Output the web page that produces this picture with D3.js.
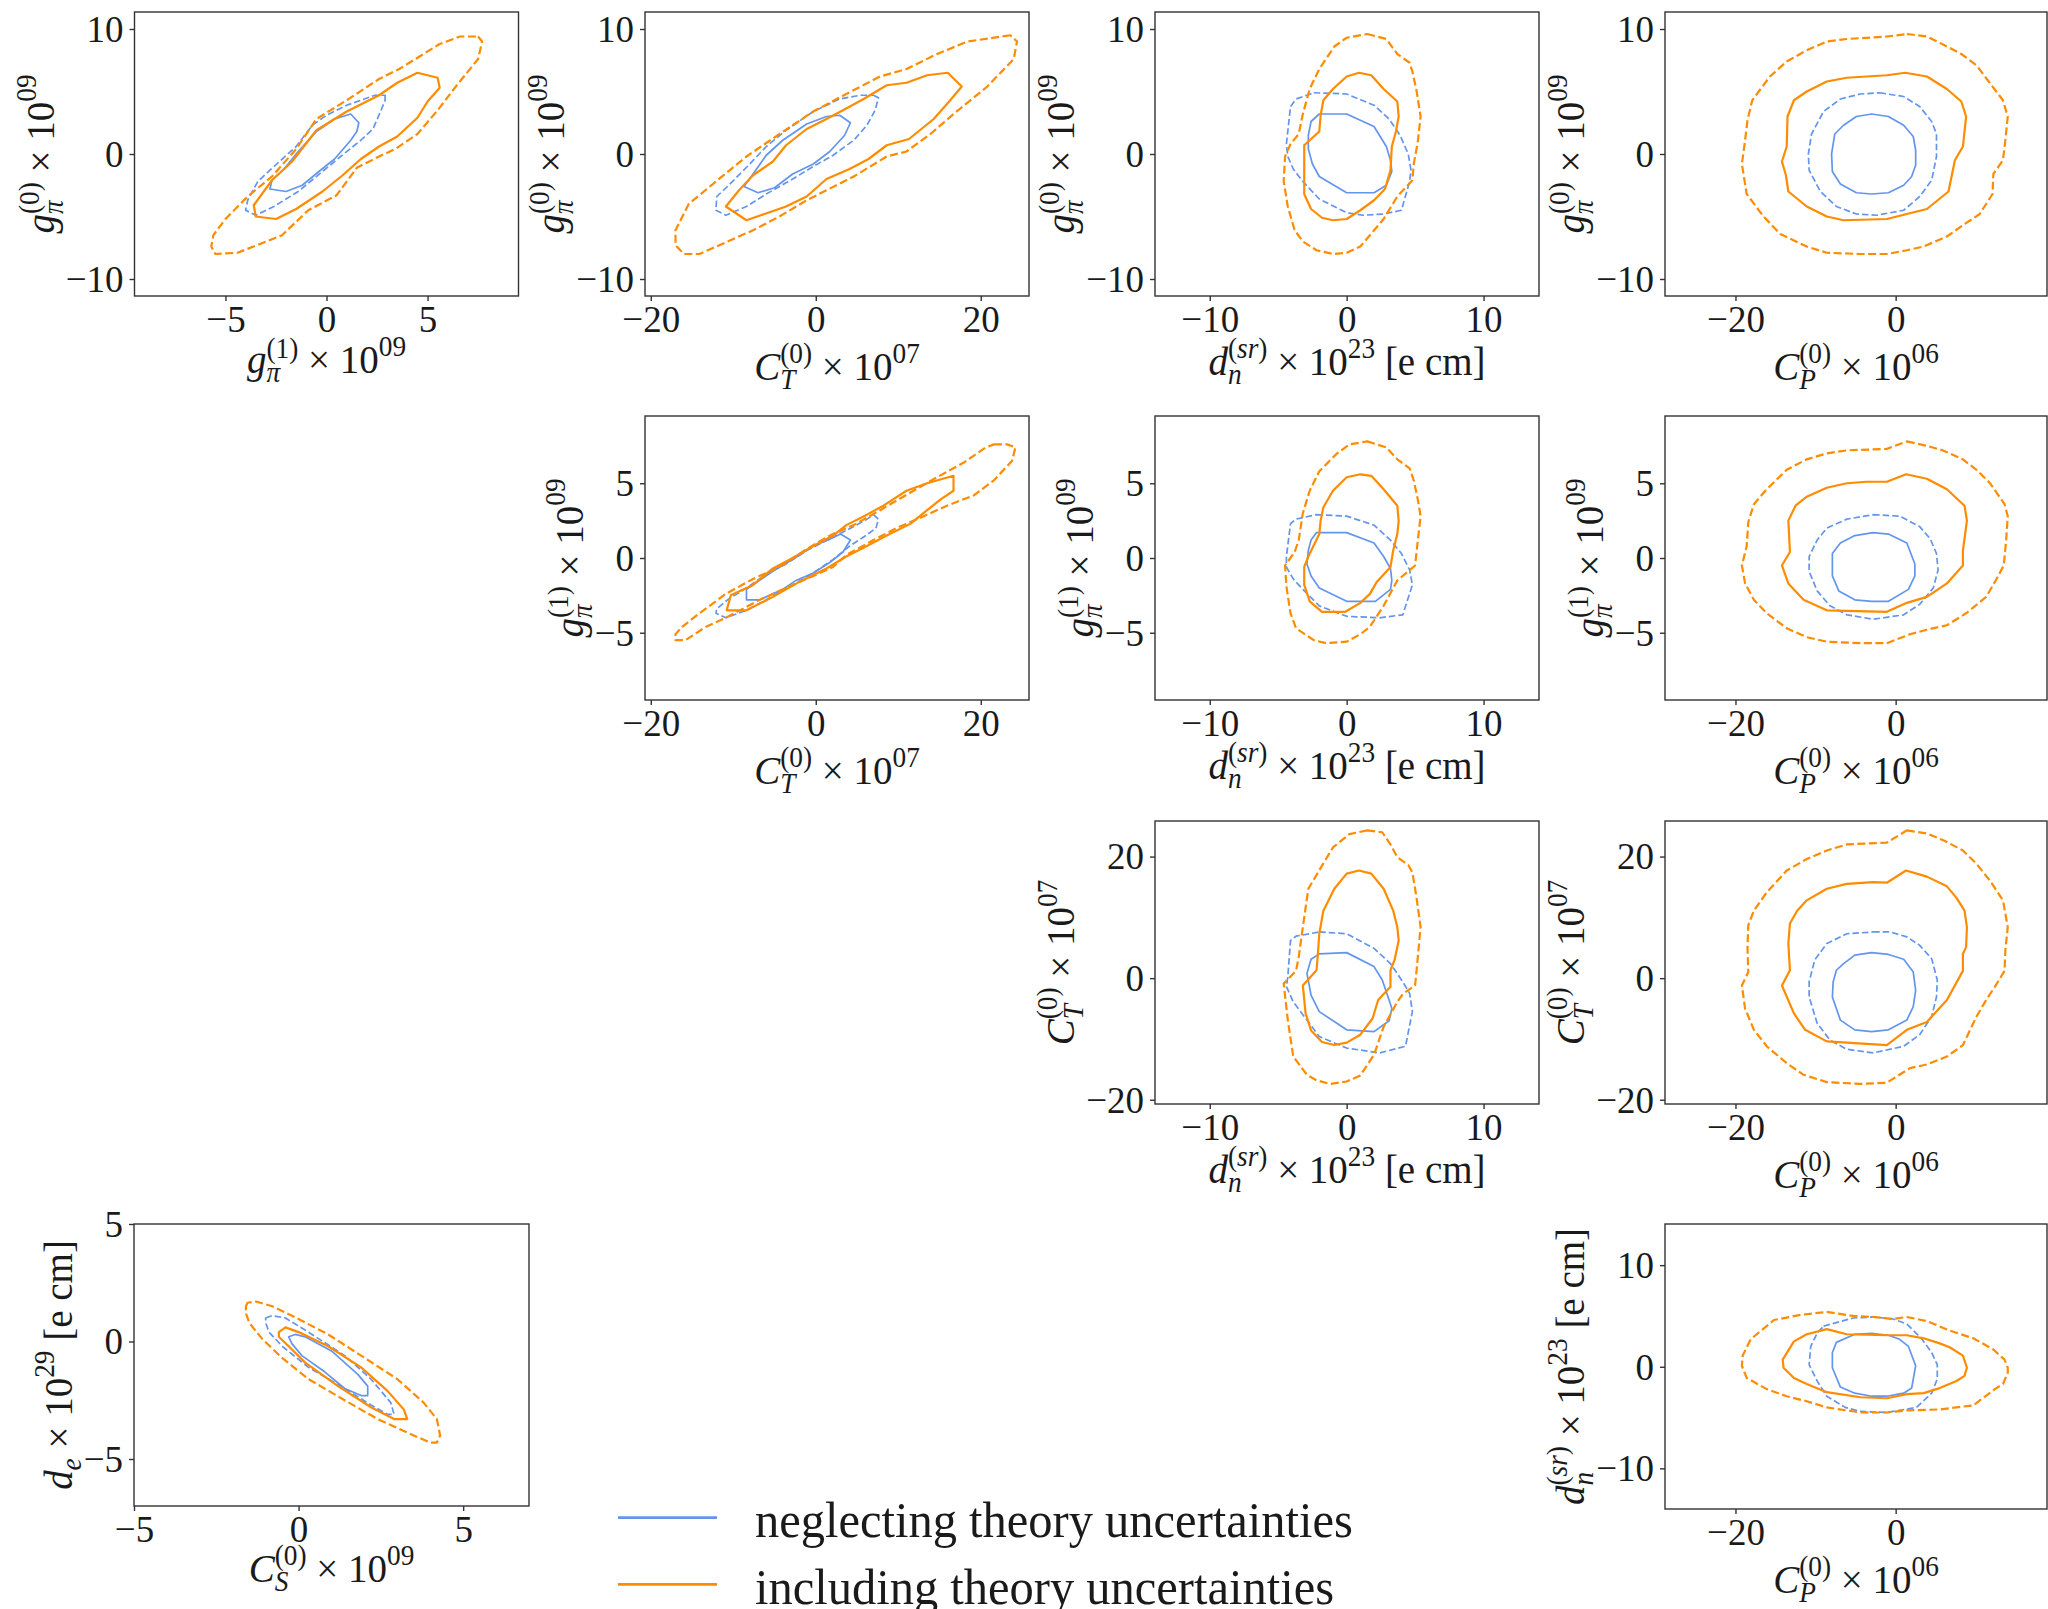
<!DOCTYPE html>
<html>
<head>
<meta charset="utf-8">
<script src="https://cdn.jsdelivr.net/npm/d3@7"></script>
<style>
body { margin: 0; background: #fff; }
svg { display: block; }
text { font-family: "Liberation Serif", "DejaVu Serif", serif; fill: #1a1a1a; }
</style>
</head>
<body>
<svg id="fig" width="2048" height="1609"></svg>
<script>
// axis ranges and ticks
const DOM_GPI0 = [-11.36, 11.36], TICKS_GPI0 = [-10, 0, 10];
const DOM_GPI1 = [-9.5, 9.5],     TICKS_GPI1 = [-5, 0, 5];
const DOM_CT = [-20.7, 25.85],    TICKS_CT = [-20, 0, 20];
const DOM_DN = [-14, 14.05],      TICKS_DN = [-10, 0, 10];
const DOM_CP = [-28.8, 18.9],     TICKS_CP = [-20, 0];
const DOM_CS = [-5, 7],           TICKS_CS = [-5, 0, 5];
const DOM_DE = [-7, 5],           TICKS_DE = [-5, 0, 5];

// axis labels: [text, italic] runs and {sup, sub} scripts
const LBL_GPI0 = [["g",1], {sup:[["(0)",0]], sub:[["π",1]]}, [" × 10",0], {sup:[["09",0]], hi:1}];
const LBL_GPI1 = [["g",1], {sup:[["(1)",0]], sub:[["π",1]]}, [" × 10",0], {sup:[["09",0]], hi:1}];
const LBL_CT = [["C",1], {sup:[["(0)",0]], sub:[["T",1]], hi:1}, [" × 10",0], {sup:[["07",0]], hi:1}];
const LBL_DN = [["d",1], {sup:[["(",0],["sr",1],[")",0]], sub:[["n",1]], hi:1}, [" × 10",0], {sup:[["23",0]], hi:1}, [" [e cm]",0]];
const LBL_CP = [["C",1], {sup:[["(0)",0]], sub:[["P",1]], hi:1}, [" × 10",0], {sup:[["06",0]], hi:1}];
const LBL_CS = [["C",1], {sup:[["(0)",0]], sub:[["S",1]], hi:1}, [" × 10",0], {sup:[["09",0]], hi:1}];
const LBL_DE = [["d",1], {sub:[["e",1]]}, [" × 10",0], {sup:[["29",0]], hi:1}, [" [e cm]",0]];

const LEGEND_LABELS = ["neglecting theory uncertainties", "including theory uncertainties"];

// contours: b = neglecting, o = including; 68 solid, 95 dashed
const p1_o95 = [[7.5,9.4],[7.7,9.0],[7.5,7.6],[6.4,5.4],[5.5,3.5],[4.5,1.6],[3.4,0.4],[2.6,-0.2],[1.5,-1.1],[0.5,-3.3],[-0.9,-4.5],[-2.2,-6.5],[-4.4,-7.9],[-5.5,-8.0],[-5.7,-7.4],[-5.6,-6.5],[-5.0,-5.2],[-3.9,-3.4],[-2.7,-1.8],[-1.5,0.4],[-0.5,2.8],[1.0,4.3],[2.6,6.0],[3.6,6.8],[5.6,8.8],[6.6,9.4]];
const p1_o68 = [[4.5,6.5],[5.5,6.1],[5.6,5.3],[5.0,4.2],[4.5,2.9],[3.5,1.4],[2.6,0.6],[1.7,-0.4],[0.8,-1.7],[-0.2,-3.0],[-1.5,-4.4],[-2.5,-5.2],[-3.5,-5.0],[-3.6,-4.1],[-2.7,-2.1],[-1.7,-0.6],[-0.5,1.9],[1.0,3.4],[2.6,4.7],[3.5,5.7]];
const p1_b95 = [[2.9,4.7],[2.9,4.3],[2.7,3.5],[2.3,2.0],[1.7,1.1],[0.7,-0.2],[-0.2,-1.4],[-1.4,-3.0],[-2.6,-4.2],[-3.5,-4.9],[-4.0,-4.5],[-3.9,-3.7],[-3.4,-2.2],[-2.6,-1.0],[-1.5,0.6],[-0.7,2.3],[0,3.1],[1.0,3.9],[2.4,4.7]];
const p1_b68 = [[1.2,3.2],[1.6,2.5],[1.5,1.8],[1.2,1.1],[0.4,-0.4],[-0.3,-1.3],[-1.2,-2.5],[-2.0,-3.0],[-2.8,-2.8],[-2.7,-2.1],[-2.1,-1.2],[-1.4,0.2],[-0.5,1.8],[0.4,2.8]];

const p2_o95 = [[23.6,9.5],[18.4,9.0],[14.7,8.0],[11.0,6.8],[7.8,6.2],[3.7,4.8],[-0.3,3.4],[-4.4,1.6],[-8.4,-0.2],[-12.1,-2.2],[-15.4,-4.0],[-17.0,-6.1],[-17.0,-7.3],[-16.0,-8.0],[-14.1,-8.0],[-11.7,-7.3],[-7.6,-6.1],[-4.4,-5.0],[-1.1,-3.7],[1.3,-2.9],[4.6,-1.8],[8.6,-0.2],[11.0,0.2],[13.9,1.6],[16.7,3.2],[20.8,5.4],[24.0,7.6],[24.4,9.0]];
const p2_o68 = [[16.0,6.5],[17.7,5.4],[16.3,4.3],[14.3,2.8],[11.3,1.2],[8.6,0.7],[6.4,-0.4],[4.1,-1.2],[1.3,-2.0],[-1.1,-3.4],[-3.6,-4.2],[-8.4,-5.3],[-10.9,-4.2],[-9.3,-2.9],[-7.6,-1.7],[-5.2,-0.6],[-3.6,0.7],[-1.1,2.0],[1.3,2.8],[3.3,3.5],[5.8,4.4],[8.6,5.5],[11.0,5.7],[13.5,6.3]];
const p2_b95 = [[7.0,4.7],[7.6,4.5],[7.2,3.5],[6.2,2.3],[4.6,1.1],[2.1,-0.1],[-0.3,-1.0],[-2.8,-2.0],[-6.0,-3.2],[-8.4,-4.2],[-10.9,-4.9],[-12.1,-4.5],[-12.0,-3.4],[-10.7,-2.6],[-8.0,-0.8],[-6.0,0.6],[-3.6,1.9],[-0.3,3.4],[2.9,4.4],[5.4,4.7]];
const p2_b68 = [[2.9,3.1],[4.2,2.5],[3.5,1.5],[1.7,0.2],[-0.3,-0.8],[-2.8,-1.6],[-5.0,-2.7],[-7.0,-3.1],[-8.7,-2.6],[-7.6,-1.6],[-6.0,-0.1],[-4.0,1.1],[-1.1,2.4],[1.3,3.0]];

const p3_o95 = [[1.5,9.6],[2.9,9.2],[3.7,8.0],[4.6,7.3],[4.8,6.6],[5.1,5.1],[5.4,3.0],[5.2,1.0],[4.9,-0.8],[4.8,-2.1],[3.7,-3.4],[2.7,-5.2],[1.7,-6.5],[1.0,-7.4],[0,-7.9],[-1.0,-8.0],[-2.2,-7.7],[-3.2,-7.0],[-3.8,-6.1],[-4.3,-4.2],[-4.6,-2.2],[-4.5,-0.2],[-4.1,0.8],[-3.5,1.6],[-3.2,3.2],[-2.7,5.2],[-2.0,6.8],[-0.9,8.6],[0,9.3]];
const p3_o68 = [[0.9,6.5],[1.8,6.3],[2.7,5.2],[3.7,4.2],[3.8,3.0],[3.6,1.8],[3.3,0.6],[3.2,-1.3],[2.8,-2.8],[2.0,-3.7],[1.0,-4.5],[0,-5.2],[-1.0,-5.3],[-1.8,-5.1],[-2.6,-4.4],[-3.1,-3.2],[-3.1,-1.6],[-3.1,0.7],[-2.0,1.8],[-1.9,3.1],[-1.7,4.3],[-1.0,5.2],[0,6.2]];
const p3_b95 = [[-2.4,4.9],[0,4.8],[2.0,3.9],[3.1,2.8],[3.9,1.5],[4.5,0.0],[4.7,-1.3],[4.6,-2.2],[4.0,-4.5],[2.7,-4.8],[1.2,-4.9],[0,-4.7],[-2.0,-3.6],[-3.2,-2.2],[-3.9,-1.2],[-4.3,-0.2],[-4.4,0.8],[-4.1,3.8],[-3.7,4.4]];
const p3_b68 = [[-2.0,3.2],[0,3.2],[2.0,2.2],[2.9,0.6],[3.2,-0.5],[3.3,-1.4],[2.9,-2.5],[2.0,-3.1],[0,-3.1],[-2.0,-1.8],[-2.5,-0.8],[-2.8,0.4],[-2.8,1.5],[-2.6,2.6]];

const p4_o95 = [[1.4,9.6],[3.9,9.4],[6.1,8.7],[8.2,8.0],[10.1,7.1],[11.5,5.9],[13.4,4.3],[14.0,3.0],[13.7,1.1],[13.4,-0.5],[12.2,-1.6],[12.1,-3.2],[10.5,-4.8],[8.4,-5.7],[6.4,-6.6],[3.5,-7.4],[1.4,-7.7],[-1.1,-8.0],[-4.4,-8.0],[-8.6,-7.9],[-11.1,-7.4],[-14.4,-6.4],[-16.5,-5.0],[-18.6,-3.2],[-19.2,-0.8],[-18.8,1.1],[-18.5,2.7],[-17.9,4.3],[-15.7,6.2],[-13.6,7.4],[-11.1,8.3],[-8.6,9.0],[-6.1,9.2],[-1.1,9.4]];
const p4_o68 = [[-1.1,6.3],[1.2,6.5],[3.9,6.2],[6.4,5.2],[8.2,4.2],[8.8,3.0],[8.4,0.6],[7.4,-0.5],[6.6,-3.0],[3.9,-4.4],[1.4,-4.8],[-1.1,-5.2],[-6.5,-5.3],[-8.6,-5.0],[-11.1,-4.2],[-13.4,-3.0],[-13.7,-1.7],[-14.2,-0.6],[-13.6,0.6],[-13.5,3.0],[-12.7,4.3],[-11.1,5.0],[-8.6,5.8],[-6.1,6.1]];
const p4_b95 = [[-2.0,4.9],[1.0,4.6],[3.0,3.8],[4.5,2.6],[5.1,1.6],[5.1,-0.2],[4.5,-2.1],[3.0,-3.4],[1.0,-4.5],[-2.4,-4.9],[-4.9,-4.8],[-7.4,-4.2],[-9.4,-3.0],[-10.8,-1.3],[-10.9,0.0],[-10.5,1.6],[-9.0,3.4],[-6.9,4.4],[-4.4,4.8]];
const p4_b68 = [[-3.0,3.2],[-0.9,3.0],[1.0,2.3],[2.2,1.4],[2.5,0.3],[2.5,-0.9],[2.0,-1.8],[1.0,-2.5],[-0.9,-3.1],[-3.0,-3.2],[-4.9,-3.1],[-6.9,-2.4],[-7.9,-1.4],[-8.0,0.0],[-7.6,1.6],[-6.5,2.3],[-4.9,3.0]];

const p5_o95 = [[21.6,7.6],[23.2,7.6],[24.2,7.4],[23.8,6.5],[21.6,5.2],[19.2,4.2],[15.9,3.5],[12.7,2.7],[9.8,2.0],[7.0,1.2],[3.7,0.2],[2.1,-0.6],[-0.3,-1.2],[-2.8,-1.8],[-6.8,-2.8],[-10.9,-4.0],[-13.3,-4.6],[-15.8,-5.5],[-17.0,-5.5],[-17.0,-5.1],[-16.2,-4.6],[-14.1,-3.7],[-10.9,-2.4],[-7.6,-1.4],[-4.4,-0.6],[-1.1,0.6],[1.7,1.5],[4.6,2.2],[7.8,3.2],[10.6,4.1],[14.7,5.4],[18.0,6.4],[20.6,7.4]];
const p5_o68 = [[16.7,5.5],[16.7,4.5],[15.1,3.9],[13.5,3.2],[11.5,2.3],[8.6,1.5],[6.2,0.8],[3.7,0.1],[1.3,-0.7],[-2.0,-1.6],[-5.2,-2.6],[-8.4,-3.5],[-10.8,-3.5],[-10.3,-2.5],[-7.6,-1.8],[-5.2,-0.7],[-2.8,0.0],[-0.3,0.8],[2.1,1.5],[3.7,2.2],[6.2,2.9],[8.2,3.5],[11.0,4.5],[13.5,5.0]];
const p5_b95 = [[7.0,2.9],[7.6,2.6],[7.3,2.0],[5.8,1.4],[4.1,0.8],[2.1,-0.1],[-0.3,-1.0],[-2.8,-1.8],[-6.0,-2.8],[-8.4,-3.5],[-10.9,-4.0],[-12.1,-3.7],[-12.0,-3.4],[-10.7,-2.8],[-8.4,-2.0],[-6.0,-1.1],[-3.6,-0.4],[-1.1,0.5],[2.1,1.4],[4.6,2.1],[6.2,2.6]];
const p5_b68 = [[3.0,1.6],[4.2,1.2],[3.3,0.4],[1.7,-0.3],[-0.3,-1.0],[-2.4,-1.5],[-4.0,-2.1],[-6.8,-2.8],[-8.4,-2.8],[-8.4,-2.1],[-6.8,-1.5],[-5.0,-0.8],[-2.8,-0.1],[-0.3,0.8],[1.5,1.2]];

const p6_o95 = [[1.5,7.8],[2.9,7.4],[3.7,6.6],[4.6,6.0],[4.9,5.2],[5.2,3.9],[5.4,2.8],[5.2,1.2],[5.0,-0.5],[3.7,-1.5],[2.7,-3.2],[1.7,-4.6],[1.0,-5.1],[0,-5.6],[-1.5,-5.7],[-2.4,-5.5],[-3.7,-4.7],[-4.1,-3.7],[-4.4,-1.9],[-4.5,-0.5],[-3.8,0.4],[-3.5,1.2],[-3.2,3.0],[-2.7,4.5],[-2.0,5.8],[-0.7,7.0],[0.2,7.6]];
const p6_o68 = [[1.0,5.6],[1.8,5.5],[2.7,4.6],[3.7,3.5],[3.8,2.5],[3.7,1.6],[3.4,0.5],[3.2,-0.6],[2.2,-1.6],[1.7,-2.4],[1.0,-3.0],[-0.1,-3.6],[-1.8,-3.6],[-2.7,-2.9],[-3.1,-1.8],[-3.1,-0.6],[-2.8,0.1],[-2.0,1.6],[-1.9,2.5],[-1.7,3.4],[-1.0,4.5],[0,5.4]];
const p6_b95 = [[-2.2,2.9],[0,2.8],[2.0,2.2],[3.2,1.2],[4.0,0.3],[4.6,-0.8],[4.8,-1.8],[4.1,-3.8],[2.4,-4.0],[0,-3.9],[-2.0,-3.2],[-3.2,-2.1],[-3.9,-1.4],[-4.4,-0.6],[-4.4,0.1],[-4.1,2.3],[-3.7,2.6]];
const p6_b68 = [[-2.2,1.7],[0,1.7],[2.0,1.0],[2.7,0.1],[3.2,-0.7],[3.3,-1.5],[3.2,-2.1],[2.1,-2.9],[0,-2.9],[-2.0,-2.0],[-2.6,-1.2],[-2.9,-0.4],[-2.8,0.5],[-2.6,1.2]];

const p7_o95 = [[1.4,7.8],[3.9,7.5],[5.9,7.2],[8.4,6.6],[10.1,5.9],[11.8,5.0],[13.6,3.6],[14.0,2.8],[13.8,1.2],[13.5,-0.5],[12.4,-1.6],[11.3,-2.6],[8.8,-3.7],[6.4,-4.5],[3.9,-4.8],[1.8,-5.1],[-1.1,-5.7],[-4.4,-5.7],[-8.6,-5.6],[-11.1,-5.3],[-13.6,-4.7],[-16.1,-3.7],[-17.7,-2.8],[-18.8,-1.7],[-19.2,-0.5],[-18.6,0.8],[-18.4,2.4],[-17.7,3.6],[-16.1,4.6],[-13.6,5.9],[-11.1,6.6],[-8.6,7.0],[-6.1,7.2],[-1.1,7.3]];
const p7_o68 = [[-1.1,5.1],[1.3,5.6],[3.9,5.3],[6.4,4.6],[8.6,3.5],[8.9,2.5],[8.4,0.5],[8.4,-0.5],[6.4,-1.7],[3.9,-2.6],[1.4,-3.0],[-1.1,-3.6],[-8.6,-3.5],[-11.5,-2.8],[-13.4,-1.7],[-14.2,-0.5],[-13.2,0.4],[-13.4,2.5],[-12.5,3.5],[-11.1,4.1],[-8.6,4.7],[-6.1,5.0],[-3.6,5.1]];
const p7_b95 = [[-2.8,2.9],[0.5,2.8],[3.0,2.1],[4.3,1.3],[5.1,0.3],[5.3,-0.8],[4.7,-2.0],[3.0,-3.1],[1.0,-3.8],[-2.8,-4.1],[-6.1,-3.8],[-8.2,-3.2],[-9.8,-2.2],[-10.8,-0.9],[-10.8,0.1],[-9.8,1.2],[-8.6,2.0],[-6.1,2.6]];
const p7_b68 = [[-2.8,1.7],[-0.9,1.6],[1.4,1.0],[2.4,-0.4],[2.4,-1.2],[1.6,-2.1],[-0.9,-2.9],[-3.0,-2.9],[-5.1,-2.8],[-7.1,-2.2],[-7.9,-1.2],[-7.9,0.3],[-6.9,1.0],[-5.1,1.5]];

const p8_o95 = [[1.5,24.3],[2.6,24.0],[3.2,22.0],[3.7,19.9],[4.5,18.6],[4.8,17.4],[5.1,13.3],[5.4,8.4],[5.2,3.5],[5.0,-1.2],[4.1,-2.6],[3.7,-3.9],[2.7,-8.0],[2.0,-12.6],[1.0,-16.0],[0,-17.0],[-1.2,-17.4],[-2.2,-16.8],[-2.9,-15.9],[-3.9,-12.9],[-4.3,-6.9],[-4.6,-0.9],[-3.7,1.2],[-3.5,3.5],[-3.2,8.4],[-2.8,14.7],[-1.8,18.5],[-1.0,21.5],[0.2,23.7]];
const p8_o68 = [[0.9,17.7],[1.8,17.2],[2.7,14.7],[3.4,11.1],[3.7,8.4],[3.8,6.2],[3.5,3.0],[3.2,1.3],[3.2,-1.4],[2.3,-3.6],[1.9,-6.6],[1.0,-9.3],[0,-10.6],[-0.9,-11.0],[-1.8,-10.5],[-2.6,-8.6],[-3.0,-5.8],[-3.2,-1.2],[-2.2,1.3],[-2.1,4.0],[-2.0,7.3],[-1.7,11.1],[-0.9,14.7],[0,17.2]];
const p8_b95 = [[-2.0,7.6],[0,7.3],[2.0,4.9],[3.2,2.4],[4.1,-0.6],[4.6,-2.5],[4.8,-5.5],[4.3,-11.2],[2.4,-12.3],[0,-11.5],[-2.0,-9.6],[-2.9,-6.9],[-3.9,-3.9],[-4.4,-1.4],[-4.3,0.2],[-4.1,6.2],[-3.7,6.9]];
const p8_b68 = [[-2.0,4.0],[0,4.2],[2.0,1.9],[2.6,-0.3],[3.1,-3.6],[3.3,-5.0],[3.1,-7.0],[2.0,-8.8],[0,-8.5],[-2.0,-5.5],[-2.6,-2.8],[-2.9,0.8],[-2.6,3.1]];

const p9_o95 = [[1.4,24.3],[3.9,23.8],[6.1,22.6],[8.4,21.0],[10.1,18.8],[11.8,16.0],[13.4,12.8],[14.0,8.4],[13.7,4.6],[13.6,1.2],[12.4,-1.4],[11.3,-3.6],[10.1,-6.3],[8.4,-11.0],[6.4,-12.9],[3.9,-14.2],[1.8,-14.8],[-1.1,-17.2],[-4.4,-17.4],[-8.6,-17.1],[-11.5,-15.9],[-13.6,-14.0],[-16.1,-11.2],[-17.7,-8.5],[-18.8,-5.0],[-19.2,-1.2],[-18.4,1.0],[-18.5,5.1],[-18.4,8.7],[-17.7,11.1],[-16.1,14.1],[-13.6,17.7],[-11.1,19.6],[-8.6,21.0],[-6.1,22.0],[-1.1,22.3]];
const p9_o68 = [[-1.1,15.7],[1.3,17.7],[3.9,16.7],[6.4,15.1],[7.6,13.2],[8.6,11.1],[8.9,8.4],[8.8,5.1],[8.4,4.0],[8.4,1.2],[6.4,-3.6],[3.9,-7.2],[1.4,-8.5],[-1.1,-11.0],[-8.6,-10.4],[-11.3,-8.5],[-12.7,-5.8],[-14.2,-1.2],[-13.2,1.3],[-13.4,5.7],[-13.2,9.0],[-12.3,11.1],[-11.1,12.8],[-8.6,14.7],[-6.1,15.5],[-2.8,15.8]];
const p9_b95 = [[-2.8,7.6],[-0.7,7.6],[1.4,6.8],[3.0,5.4],[4.5,3.2],[5.2,-0.3],[5.1,-3.1],[4.5,-6.3],[3.0,-9.3],[1.0,-11.2],[-2.8,-12.3],[-6.1,-11.7],[-8.2,-10.2],[-9.8,-7.4],[-10.8,-3.1],[-10.8,-0.6],[-10.1,3.0],[-8.6,5.7],[-6.1,7.3]];
const p9_b68 = [[-3.0,4.2],[-0.9,3.9],[1.0,3.1],[2.2,1.0],[2.5,-2.0],[2.2,-4.7],[1.4,-6.9],[-0.9,-8.5],[-3.0,-8.8],[-5.1,-8.5],[-6.9,-6.9],[-7.9,-3.1],[-7.8,-0.6],[-7.4,1.3],[-6.5,2.4],[-5.1,3.8]];

const p10_o95 = [[-1.6,1.5],[-1.55,1.65],[-1.3,1.7],[-0.8,1.5],[-0.2,1.1],[0.9,0.3],[1.9,-0.6],[3.0,-1.6],[3.8,-2.6],[4.2,-3.3],[4.3,-4.0],[4.2,-4.3],[4.0,-4.3],[3.5,-4.0],[2.4,-3.3],[1.4,-2.5],[0.3,-1.6],[-0.5,-0.7],[-1.1,0.1],[-1.5,0.8],[-1.6,1.2]];
const p10_o68 = [[-0.6,0.4],[-0.4,0.6],[0.0,0.4],[0.9,-0.2],[1.9,-1.1],[2.7,-2.1],[3.2,-2.9],[3.3,-3.3],[2.9,-3.3],[2.2,-2.8],[1.2,-1.9],[0.2,-0.9],[-0.3,-0.2],[-0.6,0.2]];
const p10_b95 = [[-1.0,1.0],[-0.8,1.1],[-0.4,1.0],[0.3,0.4],[1.4,-0.6],[2.2,-1.6],[2.8,-2.6],[2.9,-3.1],[2.7,-3.1],[2.2,-2.7],[1.4,-2.0],[0.3,-1.1],[-0.5,-0.2],[-0.9,0.4],[-1.0,0.8]];
const p10_b68 = [[-0.3,0.2],[-0.1,0.3],[0.2,0.2],[1.0,-0.4],[1.8,-1.4],[2.1,-1.9],[2.1,-2.3],[1.9,-2.3],[1.4,-2.0],[0.8,-1.3],[0.1,-0.6],[-0.2,-0.1]];

const p11_o95 = [[-8.6,5.4],[-5.3,5.0],[-2.8,4.9],[-0.3,4.7],[1.4,4.9],[3.9,4.5],[6.6,3.6],[9.7,2.8],[12.2,1.7],[13.6,0.7],[14.0,-0.1],[14.0,-0.6],[13.4,-1.7],[12.4,-2.2],[9.7,-3.8],[5.5,-4.2],[1.4,-4.3],[-1.1,-4.5],[-4.4,-4.5],[-8.6,-4.0],[-11.1,-3.4],[-13.6,-2.9],[-16.1,-2.2],[-18.6,-1.1],[-19.2,0.1],[-19.1,1.1],[-18.1,2.7],[-15.2,4.6],[-11.9,5.1]];
const p11_o68 = [[-8.6,3.7],[-6.1,3.2],[-1.1,3.1],[1.4,3.1],[3.5,2.8],[5.5,2.3],[6.8,1.9],[8.4,1.1],[8.9,-0.1],[8.6,-0.9],[7.6,-1.4],[5.5,-2.1],[3.5,-2.6],[1.4,-2.7],[-1.1,-3.1],[-4.4,-3.0],[-8.6,-2.5],[-11.1,-1.7],[-12.7,-1.1],[-14.0,-0.1],[-14.1,0.7],[-12.7,2.5],[-11.1,3.2]];
const p11_b95 = [[-9.0,4.0],[-5.3,4.8],[-2.8,4.9],[-0.3,4.7],[1.4,4.2],[3.2,2.8],[4.5,1.4],[5.2,0.2],[5.2,-1.2],[4.5,-2.6],[2.6,-4.0],[-1.1,-4.5],[-4.4,-4.4],[-6.3,-4.0],[-8.6,-2.9],[-9.8,-1.4],[-10.8,0.2],[-10.6,2.0],[-9.8,3.3]];
const p11_b68 = [[-3.0,3.3],[-0.9,3.1],[0.5,2.7],[1.6,2.0],[2.5,0.1],[2.0,-2.1],[1.0,-2.6],[-1.1,-2.9],[-3.0,-2.9],[-5.1,-2.6],[-6.9,-2.0],[-7.9,-0.1],[-7.9,1.4],[-7.4,2.4],[-5.1,3.2]];

// layout
const BLUE = "#6495ed", ORANGE = "#ff8c00", AXIS = "#333";
const TICK_FS = 37, LBL_FS = 39, LEG_FS = 48.5, SY = 1.05;

const panels = [
  {box:[134.5,518.5,12,296],xd:DOM_GPI1, yd:DOM_GPI0, xt:TICKS_GPI1, yt:TICKS_GPI0, xl:LBL_GPI1, yl:LBL_GPI0, xoff:77, c:[p1_b68,p1_b95,p1_o68,p1_o95]},
  {box:[645,1029,12,296],   xd:DOM_CT, yd:DOM_GPI0, xt:TICKS_CT, yt:TICKS_GPI0, xl:LBL_CT, yl:LBL_GPI0, xoff:84, c:[p2_b68,p2_b95,p2_o68,p2_o95]},
  {box:[1155,1539,12,296],  xd:DOM_DN, yd:DOM_GPI0, xt:TICKS_DN, yt:TICKS_GPI0, xl:LBL_DN, yl:LBL_GPI0, xoff:79, c:[p3_b68,p3_b95,p3_o68,p3_o95]},
  {box:[1665,2047,12,296],  xd:DOM_CP, yd:DOM_GPI0, xt:TICKS_CP, yt:TICKS_GPI0, xl:LBL_CP, yl:LBL_GPI0, xoff:84, c:[p4_b68,p4_b95,p4_o68,p4_o95]},
  {box:[645,1029,416,700],  xd:DOM_CT, yd:DOM_GPI1, xt:TICKS_CT, yt:TICKS_GPI1, xl:LBL_CT, yl:LBL_GPI1, xoff:84, c:[p5_b68,p5_b95,p5_o68,p5_o95]},
  {box:[1155,1539,416,700], xd:DOM_DN, yd:DOM_GPI1, xt:TICKS_DN, yt:TICKS_GPI1, xl:LBL_DN, yl:LBL_GPI1, xoff:79, c:[p6_b68,p6_b95,p6_o68,p6_o95]},
  {box:[1665,2047,416,700], xd:DOM_CP, yd:DOM_GPI1, xt:TICKS_CP, yt:TICKS_GPI1, xl:LBL_CP, yl:LBL_GPI1, xoff:84, c:[p7_b68,p7_b95,p7_o68,p7_o95]},
  {box:[1155,1539,821,1104],xd:DOM_DN, yd:DOM_CT, xt:TICKS_DN, yt:TICKS_CT, xl:LBL_DN, yl:LBL_CT, xoff:79, c:[p8_b68,p8_b95,p8_o68,p8_o95]},
  {box:[1665,2047,821,1104],xd:DOM_CP, yd:DOM_CT, xt:TICKS_CP, yt:TICKS_CT, xl:LBL_CP, yl:LBL_CT, xoff:84, c:[p9_b68,p9_b95,p9_o68,p9_o95]},
  {box:[134,529,1224,1506], xd:DOM_CS, yd:DOM_DE, xt:TICKS_CS, yt:TICKS_DE, xl:LBL_CS, yl:LBL_DE, xoff:76, c:[p10_b68,p10_b95,p10_o68,p10_o95]},
  {box:[1665,2047,1224,1509],xd:DOM_CP, yd:DOM_DN, xt:TICKS_CP, yt:TICKS_DN, xl:LBL_CP, yl:LBL_DN, xoff:84, c:[p11_b68,p11_b95,p11_o68,p11_o95]}
];

const STYLES = [
  {stroke: BLUE, width: 1.7, dash: null},
  {stroke: BLUE, width: 1.7, dash: "6.5,3"},
  {stroke: ORANGE, width: 2.2, dash: null},
  {stroke: ORANGE, width: 2.2, dash: "8,3.5"}
];

const svg = d3.select("#fig");

// text with super/subscripts built from tspans
function mathText(parent, parts, size) {
  const t = parent.append("text").attr("font-size", size);
  let level = 0, padNext = 0;
  const run = (s, it, lvl, fs, dx) => {
    const ts = t.append("tspan").text(s).attr("dy", lvl - level);
    level = lvl;
    if (it) ts.attr("font-style", "italic");
    if (fs) ts.attr("font-size", fs);
    if (dx) ts.attr("dx", dx);
    return ts.node();
  };
  parts.forEach(p => {
    if (Array.isArray(p)) {
      run(p[0], p[1], 0, null, padNext || null);
      padNext = 0;
    } else {
      const fs = size * 0.7;
      let supLen = 0, subLen = 0;
      if (p.sup) p.sup.forEach(q => {
        const n = run(q[0], q[1], -size * (p.hi ? 0.42 : 0.36), fs, null);
        supLen += n.getComputedTextLength();
      });
      if (p.sub) p.sub.forEach((q, k) => {
        const n = run(q[0], q[1], size * 0.22, fs, (k === 0 && p.sup) ? -supLen : null);
        subLen += n.getComputedTextLength();
      });
      if (p.sup && p.sub) padNext = Math.max(0, supLen - subLen);
    }
  });
  return t;
}

panels.forEach(p => {
  const [x0, x1, y0, y1] = p.box;
  const x = d3.scaleLinear().domain(p.xd).range([x0, x1]);
  const y = d3.scaleLinear().domain(p.yd).range([y1, y0]);
  const g = svg.append("g");

  const line = d3.line().x(d => x(d[0])).y(d => y(d[1])).curve(d3.curveLinearClosed);
  p.c.forEach((pts, i) => {
    g.append("path")
      .attr("d", line(pts))
      .attr("fill", "none")
      .attr("stroke", STYLES[i].stroke)
      .attr("stroke-width", STYLES[i].width)
      .attr("stroke-dasharray", STYLES[i].dash)
      .attr("stroke-linejoin", "round");
  });

  const ax = g.append("g").attr("transform", `translate(0,${y1})`)
    .call(d3.axisBottom(x).tickValues(p.xt).tickSize(5).tickPadding(3));
  const ay = g.append("g").attr("transform", `translate(${x0},0)`)
    .call(d3.axisLeft(y).tickValues(p.yt).tickSize(5).tickPadding(6));
  [ax, ay].forEach(a => {
    a.select(".domain").remove();
    a.attr("font-family", null).attr("font-size", TICK_FS);
    a.selectAll(".tick line").attr("stroke", AXIS).attr("stroke-width", 1.4);
    a.selectAll(".tick text").attr("fill", "#1a1a1a").each(function () {
      const t = d3.select(this);
      const tx = +t.attr("x") || 0, ty = +t.attr("y") || 0;
      t.attr("x", null).attr("y", null)
        .attr("transform", `translate(${tx},${ty}) scale(1,${SY})`);
    });
  });

  g.append("rect")
    .attr("x", x0).attr("y", y0)
    .attr("width", x1 - x0).attr("height", y1 - y0)
    .attr("fill", "none").attr("stroke", AXIS).attr("stroke-width", 1.4);

  // x label
  mathText(g, p.xl, LBL_FS)
    .attr("text-anchor", "middle")
    .attr("transform", `translate(${(x0 + x1) / 2},${y1 + p.xoff}) scale(1,${SY})`);

  // y label, left of the tick labels
  let tickLeft = x0;
  ay.selectAll(".tick text").each(function () {
    tickLeft = Math.min(tickLeft, this.getBoundingClientRect().left);
  });
  mathText(g, p.yl, LBL_FS)
    .attr("text-anchor", "middle")
    .attr("transform", `translate(${tickLeft - 12},${(y0 + y1) / 2}) rotate(-90) scale(1,${SY})`);
});

// legend
const leg = svg.append("g");
[BLUE, ORANGE].forEach((col, i) => {
  const ly = 1517.6 + 66.7 * i;
  leg.append("line")
    .attr("x1", 618).attr("x2", 717).attr("y1", ly).attr("y2", ly)
    .attr("stroke", col).attr("stroke-width", 2.8);
  leg.append("text")
    .attr("font-size", LEG_FS)
    .attr("transform", `translate(755,${ly + 19.5}) scale(1,${SY})`)
    .text(LEGEND_LABELS[i]);
});
</script>
</body>
</html>
